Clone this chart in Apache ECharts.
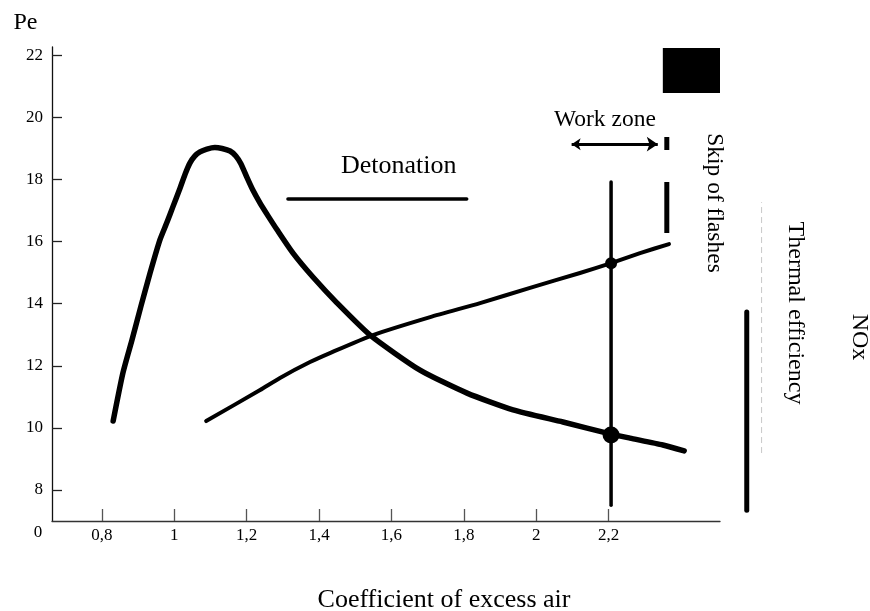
<!DOCTYPE html>
<html>
<head>
<meta charset="utf-8">
<script src="https://cdn.jsdelivr.net/npm/echarts@6/dist/echarts.min.js"></script>
<style>
html,body{margin:0;padding:0;background:#fff;}
#chart{width:870px;height:611px;}
</style>
</head>
<body>
<div id="chart"></div>
<script>
// ---- data ----
const xTicks = [0.8, 1, 1.2, 1.4, 1.6, 1.8, 2, 2.2];
const yTicks = [8, 10, 12, 14, 16, 18, 20, 22];

// Pe curve
const peX = [0.831, 0.858, 0.883, 0.908, 0.933, 0.960, 0.980, 0.996, 1.016, 1.030, 1.043, 1.057, 1.071, 1.090, 1.112, 1.132, 1.154, 1.170, 1.184, 1.201, 1.217, 1.237, 1.259, 1.284, 1.328, 1.383, 1.450, 1.541, 1.679, 1.809, 1.936, 2.074, 2.207, 2.259, 2.350, 2.409];
const peY = [10.22, 11.77, 12.83, 13.93, 14.99, 16.05, 16.63, 17.12, 17.73, 18.18, 18.53, 18.76, 18.89, 18.98, 19.03, 19.00, 18.92, 18.76, 18.51, 18.06, 17.66, 17.24, 16.83, 16.38, 15.63, 14.86, 14.02, 12.99, 11.86, 11.12, 10.58, 10.19, 9.80, 9.67, 9.45, 9.26];

// Thermal efficiency curve
const effX = [1.088, 1.237, 1.292, 1.375, 1.430, 1.549, 1.707, 1.845, 1.983, 2.121, 2.207, 2.287, 2.367];
const effY = [10.22, 11.22, 11.61, 12.12, 12.41, 12.99, 13.57, 14.02, 14.51, 14.99, 15.31, 15.63, 15.92];

// working point
const workX = 2.207;
const workLineY = [7.51, 17.92];
const peDot = [2.207, 9.77];
const effDot = [2.207, 15.30];

// skip of flashes marker
const skipX = 2.361;
const skipSegmentsY = [[19.37, 18.95], [17.92, 16.28]];

// work zone arrow
const workZoneX = [2.098, 2.336];
const workZoneY = 19.14;

// detonation line
const detonationX = [1.314, 1.808];
const detonationY = 17.37;

// NOx scale line and thermal efficiency guide (right side, beyond the plotted axis)
const noxX = 2.582;
const noxY = [7.35, 13.73];
const guideX = 2.623;
const guideY = [9.19, 17.27];

// black block at top right
const blockX = [2.350, 2.508];
const blockY = [20.79, 22.24];

const FONT = '"Liberation Serif", "Times New Roman", serif';
const fmt = v => String(v).replace('.', ',');

const chart = echarts.init(document.getElementById('chart'), null, {renderer: 'canvas'});

const blackLine = (w) => ({color: '#000', width: w, cap: 'round', join: 'round'});

const series = [
  {
    type: 'line', name: 'Pe', data: peX.map((x, i) => [x, peY[i]]),
    smooth: 0.2, symbol: 'none', lineStyle: blackLine(5.5), z: 5
  },
  {
    type: 'line', name: 'Thermal efficiency', data: effX.map((x, i) => [x, effY[i]]),
    smooth: 0.2, symbol: 'none', lineStyle: blackLine(4), z: 5
  },
  {
    type: 'line', name: 'work', data: workLineY.map(y => [workX, y]),
    symbol: 'none', lineStyle: blackLine(3.5),
    markArea: {
      silent: true, itemStyle: {color: '#000', opacity: 1},
      data: [[{coord: [blockX[0], blockY[0]]}, {coord: [blockX[1], blockY[1]]}]]
    }
  },
  {
    type: 'line', name: 'detonation', data: detonationX.map(x => [x, detonationY]),
    symbol: 'none', lineStyle: blackLine(3.5)
  },
  {
    type: 'line', name: 'nox', xAxisIndex: 1, yAxisIndex: 1,
    data: noxY.map(y => [noxX, y]),
    symbol: 'none', lineStyle: blackLine(5)
  },
  {
    type: 'line', name: 'guide', xAxisIndex: 1, yAxisIndex: 1,
    data: guideY.map(y => [guideX, y]),
    symbol: 'none', lineStyle: {color: '#c8c8c8', width: 1, type: [6, 4]}
  },
  {
    type: 'scatter', name: 'dots', data: [peDot], symbolSize: 17,
    itemStyle: {color: '#000', opacity: 1}, z: 6
  },
  {
    type: 'scatter', name: 'dots2', data: [effDot], symbolSize: 12,
    itemStyle: {color: '#000', opacity: 1}, z: 6
  },
  {
    type: 'lines', coordinateSystem: 'cartesian2d', name: 'workzone',
    data: [{coords: [[workZoneX[0], workZoneY], [workZoneX[1], workZoneY]]}],
    symbol: ['arrow', 'arrow'], symbolSize: [9, 11],
    lineStyle: {color: '#000', width: 3, opacity: 1}
  }
].concat(skipSegmentsY.map((seg, i) => ({
  type: 'line', name: 'skip' + i, data: seg.map(y => [skipX, y]),
  symbol: 'none', lineStyle: {color: '#000', width: 5, cap: 'butt'}
})));

const option = {
  animation: false,
  backgroundColor: '#fff',
  grid: [
    {left: 52, right: 150, top: 47, bottom: 90, containLabel: false},
    {left: 52, right: 0, top: 47, bottom: 90, containLabel: false}
  ],
  xAxis: [{
    type: 'value', min: 0.662, max: 2.508, gridIndex: 0,
    axisLine: {show: true, onZero: false, lineStyle: {color: '#333', width: 1.3}},
    axisTick: {show: true, inside: true, length: 12, customValues: xTicks, lineStyle: {color: '#555', width: 1.3}},
    axisLabel: {show: true, customValues: xTicks, formatter: v => fmt(v), margin: 6,
      fontFamily: FONT, fontSize: 17, color: '#000'},
    splitLine: {show: false}
  }, {
    type: 'value', min: 0.662, max: 2.9226, gridIndex: 1, show: false
  }],
  yAxis: [{
    type: 'value', min: 7, max: 22.27, gridIndex: 0,
    axisLine: {show: true, onZero: false, lineStyle: {color: '#111', width: 1.3}},
    axisTick: {show: true, inside: true, length: 10, customValues: yTicks, lineStyle: {color: '#222', width: 1.3}},
    axisLabel: {show: true, customValues: yTicks, margin: 9,
      fontFamily: FONT, fontSize: 17, color: '#000'},
    splitLine: {show: false}
  }, {
    type: 'value', min: 7, max: 22.27, gridIndex: 1, show: false
  }],
  graphic: [
    {type: 'text', x: 25.5, y: 23, style: {text: 'Pe', font: '24px ' + FONT, fill: '#000', align: 'center', verticalAlign: 'middle'}},
    {type: 'text', x: 38, y: 533, style: {text: '0', font: '17px ' + FONT, fill: '#000', align: 'center', verticalAlign: 'middle'}},
    {type: 'text', x: 444, y: 600, style: {text: 'Coefficient of excess air', font: '26px ' + FONT, fill: '#000', align: 'center', verticalAlign: 'middle'}},
    {type: 'text', x: 341, y: 166.5, style: {text: 'Detonation', font: '26px ' + FONT, fill: '#000', align: 'left', verticalAlign: 'middle'}},
    {type: 'text', x: 554, y: 120, style: {text: 'Work zone', font: '23.5px ' + FONT, fill: '#000', align: 'left', verticalAlign: 'middle'}},
    {type: 'text', x: 714, y: 203, rotation: -Math.PI / 2, style: {text: 'Skip of flashes', font: '23.5px ' + FONT, fill: '#000', align: 'center', verticalAlign: 'middle'}},
    {type: 'text', x: 795, y: 313, rotation: -Math.PI / 2, style: {text: 'Thermal efficiency', font: '24px ' + FONT, fill: '#000', align: 'center', verticalAlign: 'middle'}},
    {type: 'text', x: 859, y: 337, rotation: -Math.PI / 2, style: {text: 'NOx', font: '24px ' + FONT, fill: '#000', align: 'center', verticalAlign: 'middle'}}
  ],
  series: series
};

chart.setOption(option);
</script>
</body>
</html>
